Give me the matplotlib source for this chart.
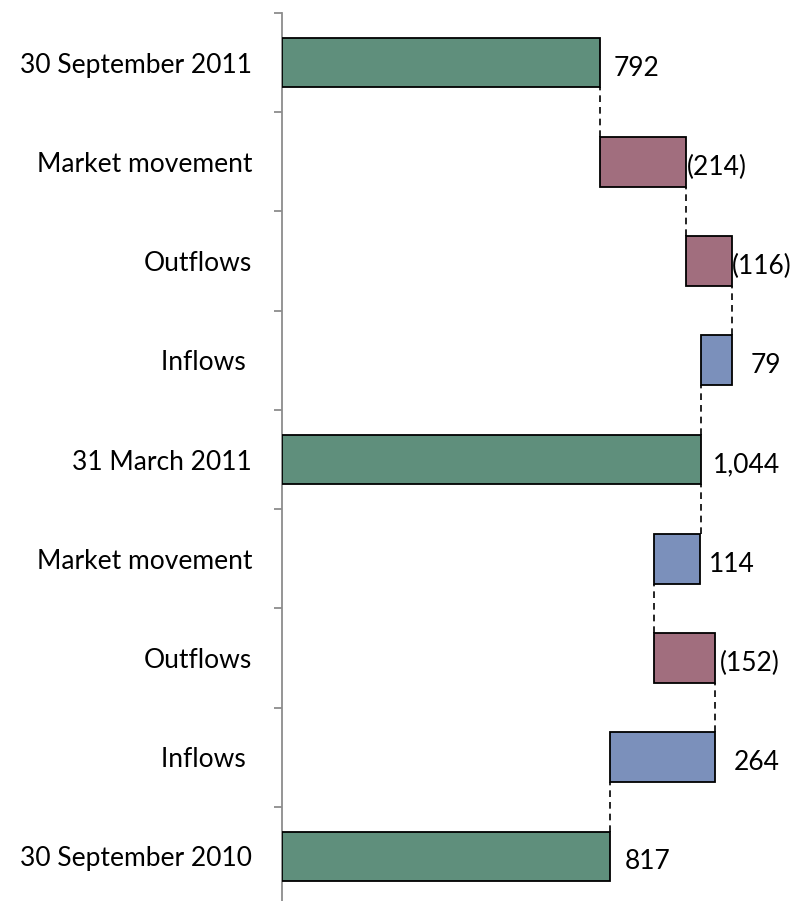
import matplotlib
matplotlib.use("Agg")
import matplotlib.pyplot as plt
from matplotlib.ticker import FixedLocator

plt.rcParams['font.family'] = ['Lato', 'DejaVu Sans']

# Data (top to bottom as displayed)
categories = ["30 September 2011", "Market movement", "Outflows", "Inflows ",
              "31 March 2011", "Market movement", "Outflows", "Inflows ",
              "30 September 2010"]
values = [792, -214, -116, 79, 1044, 114, -152, 264, 817]
is_total = [True, False, False, False, True, False, False, False, True]
value_labels = ["792", "(214)", "(116)", "79", "1,044", "114", "(152)", "264", "817"]

# label horizontal offsets in pixels from bar end (style)
label_dx = [14, 1, 0, 18, 12, 9, 4, 18, 15]

GREEN = "#5F8F7C"
RED = "#A16E7E"
BLUE = "#7B90BB"
FS = 19

fig = plt.figure(figsize=(8.02, 9.01), dpi=100)
W, H = 802, 901
ax_left, ax_right = 282, 802
ax_top, ax_bottom = 13, 906
ax = fig.add_axes([ax_left / W, 1 - ax_bottom / H, (ax_right - ax_left) / W,
                   (ax_bottom - ax_top) / H])

n = len(categories)
ys = list(range(n))

# compute bar spans bottom-up
lefts = [0] * n
widths = [0] * n
ends = [0] * n
running = 0
for i in reversed(range(n)):
    v = values[i]
    if is_total[i]:
        lefts[i] = 0
        widths[i] = v
        ends[i] = v
        running = v
    else:
        new = running + v
        lefts[i] = min(running, new)
        widths[i] = abs(v)
        ends[i] = new
        running = new

colors = [GREEN if t else (RED if v < 0 else BLUE) for t, v in zip(is_total, values)]
ax.barh(ys, widths, left=lefts, height=0.5, color=colors, edgecolor="black",
        linewidth=1.3, zorder=3)

# connectors: between bar i (upper) and i+1 (lower)
for i in range(n - 1):
    lower = i + 1
    xval = ends[lower]
    if is_total[i]:
        xval = values[i] if abs(values[i] - ends[lower]) <= 2 else ends[lower]
    ax.plot([xval, xval], [lower - 0.25, i + 0.25], color="black",
            linestyle=(0, (4, 3)), linewidth=1.2, zorder=2)

# value labels
for i in range(n):
    right = lefts[i] + widths[i]
    ax.annotate(value_labels[i], xy=(right, ys[i]), xytext=(label_dx[i] * 0.72, -4),
                textcoords="offset points", ha="left", va="center", fontsize=FS,
                color="black")

ax.set_xlim(0, 1297)
ax.set_ylim(n - 0.5, -0.5)
ax.set_yticks(ys)
ax.set_yticklabels(categories, fontsize=FS)
ax.yaxis.set_minor_locator(FixedLocator([k - 0.5 for k in range(n + 1)]))
ax.tick_params(axis="y", which="major", length=0, pad=21.5)
ax.tick_params(axis="y", which="minor", length=6, width=1.3, color="#8C8C8C")
ax.set_xticks([])
for s in ["top", "right", "bottom"]:
    ax.spines[s].set_visible(False)
ax.spines["left"].set_color("#8C8C8C")
ax.spines["left"].set_linewidth(1.3)

fig.savefig("out.png", dpi=100)
